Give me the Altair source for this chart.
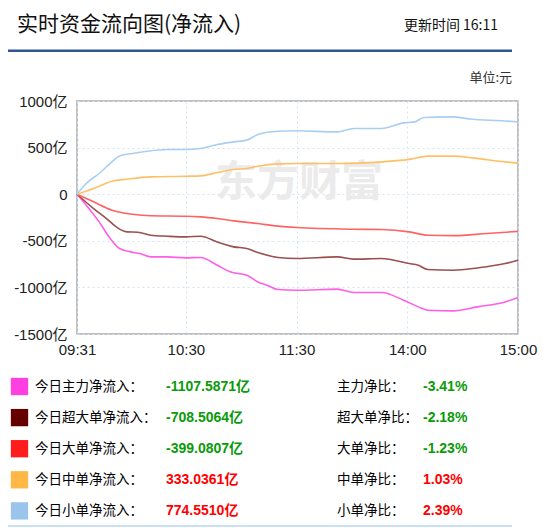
import altair as alt
import pandas as pd

# ---------------- data ----------------
minute_ticks = [0, 59, 119, 179, 239]
minute_labels = ["09:31", "10:30", "11:30", "14:00", "15:00"]
y_ticks = [-1500, -1000, -500, 0, 500, 1000]

series_names = ["主力", "超大单", "大单", "中单", "小单"]
line_colors = ["#ff5fe8", "#9c4f4f", "#ff6262", "#ffc064", "#a8cff1"]
swatch_colors = ["#ff40e0", "#660000", "#ff1c1c", "#ffb845", "#9ac4ec"]

main_t = [0, 5, 12, 18, 23, 29, 34, 40, 49, 59, 67, 76, 83, 92, 98, 103, 109, 119, 141, 150, 165, 177, 185, 190, 204, 217, 232, 239]
main_v = [0, -118, -297, -476, -583, -619, -637, -673, -673, -683, -679, -762, -833, -869, -941, -976, -1023, -1030, -1019, -1055, -1055, -1137, -1209, -1245, -1252, -1209, -1156, -1108]

super_t = [0, 9, 16, 22, 27, 33, 40, 49, 59, 67, 76, 85, 92, 98, 109, 119, 141, 150, 165, 180, 185, 190, 204, 217, 232, 239]
super_v = [0, -154, -261, -361, -404, -408, -440, -451, -458, -451, -512, -565, -583, -626, -679, -690, -673, -697, -690, -744, -762, -808, -816, -791, -744, -708]

large_t = [0, 9, 19, 30, 40, 59, 67, 76, 85, 98, 109, 119, 150, 165, 180, 190, 204, 222, 239]
large_v = [0, -82, -172, -215, -232, -236, -243, -261, -286, -315, -343, -358, -376, -379, -404, -440, -444, -422, -399]

medium_t = [0, 9, 19, 27, 40, 59, 67, 76, 85, 92, 98, 109, 119, 141, 165, 181, 190, 204, 214, 232, 239]
medium_v = [0, 61, 140, 161, 186, 193, 197, 233, 265, 276, 300, 325, 329, 329, 347, 376, 408, 408, 390, 347, 333]

small_t = [0, 5, 12, 18, 23, 30, 38, 49, 59, 67, 76, 85, 92, 98, 109, 119, 141, 150, 165, 177, 183, 188, 203, 214, 232, 239]
small_v = [0, 115, 222, 330, 411, 437, 461, 480, 480, 490, 533, 561, 580, 640, 676, 680, 669, 705, 705, 765, 776, 823, 830, 805, 786, 775]

row_labels = ["今日主力净流入：", "今日超大单净流入：", "今日大单净流入：", "今日中单净流入：", "今日小单净流入："]
net_inflow = [-1107.5871, -708.5064, -399.0807, 333.0361, 774.5510]
ratio_labels = ["主力净比：", "超大单净比：", "大单净比：", "中单净比：", "小单净比："]
ratios = [-3.41, -2.18, -1.23, 1.03, 2.39]

title_text = "实时资金流向图(净流入)"
update_text = "更新时间 16:11"
unit_text = "单位:元"
watermark_text = "东方财富"

# ---------------- build tables ----------------
parts = []
for name, ts, vs in zip(series_names,
                        [main_t, super_t, large_t, medium_t, small_t],
                        [main_v, super_v, large_v, medium_v, small_v]):
    parts.append(pd.DataFrame({"t": ts, "v": vs, "s": name}))
df_lines = pd.concat(parts, ignore_index=True)

df_table = pd.DataFrame({
    "row": list(range(len(row_labels))),
    "label": row_labels,
    "amt": net_inflow,
    "rlabel": ratio_labels,
    "ratio": ratios,
    "swatch": series_names,
})

FONT = "Noto Sans CJK SC"
NUMFONT = "Liberation Sans, Noto Sans CJK SC"

x_expr = " : ".join(f"datum.value == {v} ? '{l}'" for v, l in zip(minute_ticks, minute_labels)) + " : ''"
y_expr = "datum.value == 0 ? '0' : datum.value + '亿'"

grid_color = "#d3e3f4"

lines = alt.Chart(df_lines).mark_line(strokeWidth=1.6, interpolate="monotone").encode(
    x=alt.X("t:Q",
            scale=alt.Scale(domain=[0, 239], nice=False, zero=False),
            axis=alt.Axis(values=minute_ticks, labelExpr=x_expr, title=None, grid=True,
                          gridDash=[2, 3], gridColor=grid_color, ticks=False, domain=False,
                          labelFlush=False, labelPadding=8, labelFontSize=15,
                          labelColor="#222", labelFont=NUMFONT)),
    y=alt.Y("v:Q",
            scale=alt.Scale(domain=[-1500, 1000], nice=False),
            axis=alt.Axis(values=y_ticks, labelExpr=y_expr, title=None, grid=True,
                          gridDash=[2, 3], gridColor=grid_color, ticks=False, domain=False,
                          labelPadding=10, labelFontSize=15, labelColor="#222",
                          labelFont=NUMFONT)),
    color=alt.Color("s:N", scale=alt.Scale(domain=series_names, range=line_colors), legend=None),
)

one = pd.DataFrame({"k": [0]})

def label(text, x, y, size, align="left", color="#000", weight="normal", font=FONT):
    return alt.Chart(pd.DataFrame({"txt": [text]})).mark_text(
        align=align, baseline="middle", fontSize=size, font=font, fill=color, fontWeight=weight
    ).encode(text="txt:N", x=alt.value(x), y=alt.value(y))

title = label(title_text, -60, -76, 21, color="#111")
update = label(update_text, 421, -75, 14, align="right", color="#111")
unit = label(unit_text, 435, -23, 13, align="right", color="#333")
watermark = label(watermark_text, 222, 82, 42, align="center", color="#ebebeb", weight="bold")

top_rule = alt.Chart(one).mark_rule(color="#2f5597", strokeWidth=2.5).encode(
    x=alt.value(-74), x2=alt.value(435), y=alt.value(-50.3))
bottom_rule = alt.Chart(one).mark_rule(color="#b9d5ef", strokeWidth=1.5).encode(
    x=alt.value(-74), x2=alt.value(435), y=alt.value(425))

base = alt.Chart(df_table).transform_calculate(
    py="285.5 + datum.row * 31.1",
    amt_text="replace(format(datum.amt, '.4f'), '\u2212', '-') + '亿'",
    ratio_text="replace(format(datum.ratio, '.2f'), '\u2212', '-') + '%'",
)
ypos = alt.Y("py:Q", scale=None, axis=None)

swatches = base.mark_square(size=300, opacity=1).encode(
    x=alt.value(-57.5), y=ypos,
    fill=alt.Fill("swatch:N", scale=alt.Scale(domain=series_names, range=swatch_colors), legend=None),
)
row_text = base.mark_text(align="left", baseline="middle", fontSize=13.5, font=FONT, color="#000").encode(
    x=alt.value(-42), y=ypos, text="label:N")
amt_text = base.mark_text(align="left", baseline="middle", fontSize=14, font=NUMFONT, fontWeight="bold").encode(
    x=alt.value(89), y=ypos, text="amt_text:N",
    color=alt.condition("datum.amt < 0", alt.value("#0a9a0a"), alt.value("#ff0000")))
ratio_text = base.mark_text(align="left", baseline="middle", fontSize=13.5, font=FONT, color="#000").encode(
    x=alt.value(260), y=ypos, text="rlabel:N")
ratio_val = base.mark_text(align="left", baseline="middle", fontSize=14, font=NUMFONT, fontWeight="bold").encode(
    x=alt.value(346), y=ypos, text="ratio_text:N",
    color=alt.condition("datum.ratio < 0", alt.value("#0a9a0a"), alt.value("#ff0000")))

chart = alt.layer(
    watermark, lines, title, update, unit, top_rule, bottom_rule,
    swatches, row_text, amt_text, ratio_text, ratio_val
).resolve_scale(
    x="independent", y="independent", color="independent", fill="independent"
).resolve_axis(
    x="independent", y="independent"
).properties(
    width=441, height=233,
    padding={"left": 69, "top": 93, "right": 21, "bottom": 193},
    autosize=alt.AutoSizeParams(type="none"),
    background="white",
).configure_view(
    stroke="#aaaaaa", strokeWidth=1.5
)

chart.save("out.html", embed_options={"renderer": "svg", "actions": False})
